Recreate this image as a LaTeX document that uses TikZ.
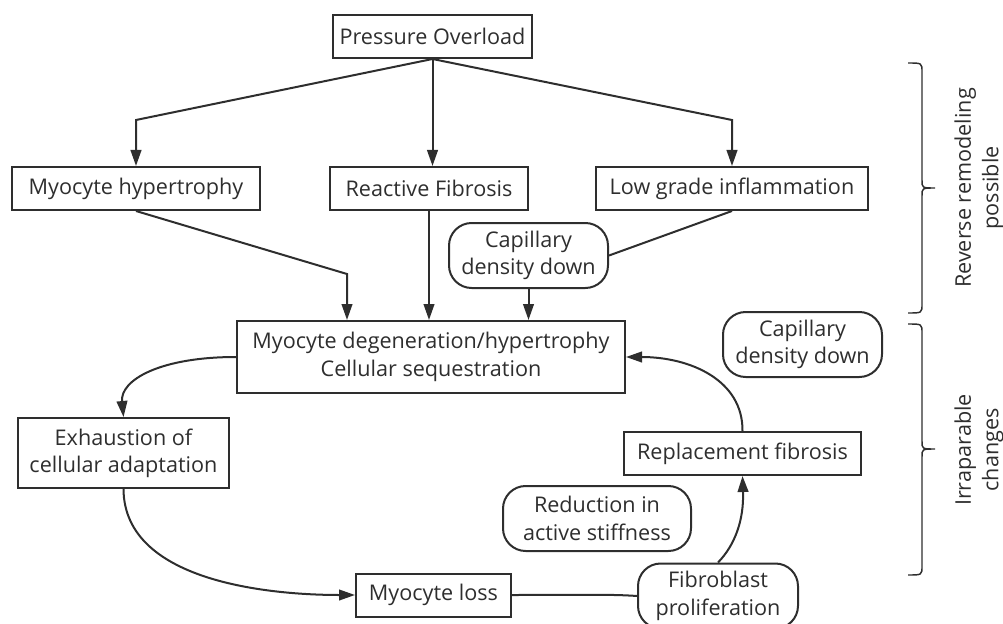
\documentclass[tikz,border=0pt]{standalone}
\usepackage{fontspec}
\setmainfont{Open Sans}
\usetikzlibrary{arrows.meta}
\definecolor{ink}{HTML}{2E2E2E}
\begin{document}
\begin{tikzpicture}[x=0.75pt,y=-0.75pt,
  every node/.style={text=ink, font=\fontsize{16.2}{20.5}\selectfont, align=center, inner sep=0pt},
  box/.style={draw=ink, line width=1.5pt, rectangle},
  rbox/.style={draw=ink, line width=1.5pt, rectangle, rounded corners=17pt},
  conn/.style={draw=ink, line width=1.5pt},
  arr/.style={conn, -{Triangle[length=12pt,width=8pt]}},
  brace/.style={draw=ink, line width=1.1pt}
]
\useasboundingbox (0,0) rectangle (1003,624);
% nodes
\node[box, minimum width=149.25pt, minimum height=32.25pt] (po) at (432.5,36.5) {Pressure Overload};
\node[box, minimum width=186pt, minimum height=32.25pt] (mh) at (136,188.5) {Myocyte hypertrophy};
\node[box, minimum width=148.5pt, minimum height=32.25pt] (rf) at (429,188.5) {Reactive Fibrosis};
\node[box, minimum width=204pt, minimum height=32.25pt] (lgi) at (732,188.5) {Low grade inflammation};
\node[rbox, minimum width=119.25pt, minimum height=48.75pt] (cap1) at (528.5,255.5) {Capillary\\density down};
\node[box, minimum width=291pt, minimum height=54pt] (md) at (431,357) {Myocyte degeneration/hypertrophy\\Cellular sequestration};
\node[rbox, minimum width=119.25pt, minimum height=48.75pt] (cap2) at (802.5,344.5) {Capillary\\density down};
\node[box, minimum width=158.25pt, minimum height=52.5pt] (ex) at (123.5,453) {Exhaustion of\\cellular adaptation};
\node[box, minimum width=177.75pt, minimum height=32.25pt] (rep) at (742.5,453.5) {Replacement fibrosis};
\node[rbox, minimum width=141pt, minimum height=48.75pt] (red) at (597,518.5) {Reduction in\\active stiffness};
\node[box, minimum width=116.25pt, minimum height=32.25pt] (ml) at (433.5,595) {Myocyte loss};
\node[rbox, minimum width=120pt, minimum height=48.75pt] (fib) at (718,596) {Fibroblast\\proliferation};
% bend coordinates
\coordinate (b1) at (0,120);
\coordinate (b2) at (347,274);
% connectors
\draw[arr] (po.south) -- (mh.north |- b1) -- (mh.north);
\draw[arr] (po.south) -- (po.south |- rf.north);
\draw[arr] (po.south) -- (lgi.north |- b1) -- (lgi.north);
\draw[arr] (mh.south) -- (b2) -- (b2 |- md.north);
\draw[arr] (rf.south) -- (rf.south |- md.north);
\draw[conn] (lgi.south) -- (cap1.east);
\draw[arr] (cap1.south) -- (cap1.south |- md.north);
\draw[arr] (md.west) .. controls (160,357) and (120,380) .. (ex.north);
\draw[arr] (ex.south) .. controls (124,585) and (280,595) .. (ml.west);
\draw[conn] (ml.east) .. controls (570,595) and (610,594) .. (fib.west);
\draw[arr] (fib.north) .. controls (735,545) and (744,520) .. (rep.south);
\draw[arr] (rep.north) .. controls (743,380) and (690,357) .. (md.east);
% braces
\draw[brace] (908,63) .. controls (922,63) .. (922,72) -- (922,180) .. controls (922,188) .. (935,188)
  .. controls (922,188) .. (922,196) -- (922,304) .. controls (922,313) .. (908,313);
\draw[brace] (908,324) .. controls (922,324) .. (922,333) -- (922,441) .. controls (922,449) .. (935,449)
  .. controls (922,449) .. (922,457) -- (922,566) .. controls (922,575) .. (908,575);
\node[rotate=90] (t1) at (979,188) {Reverse remodeling\\possible};
\node[rotate=90] (t2) at (979,450) {Irraparable\\changes};
\end{tikzpicture}
\end{document}
